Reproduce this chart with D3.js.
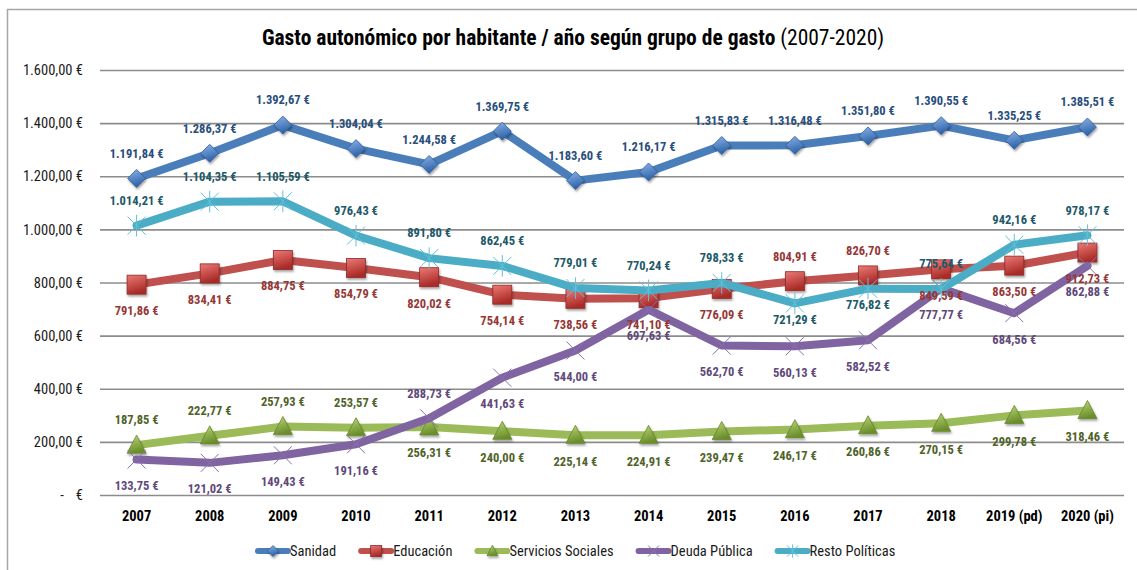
<!DOCTYPE html>
<html>
<head>
<meta charset="utf-8">
<script src="https://cdn.jsdelivr.net/npm/d3@7"></script>
<style>
  html, body { margin: 0; padding: 0; background: #fff; }
  svg { display: block; }
  text { font-family: 'Liberation Sans Narrow', 'Roboto Condensed', 'Open Sans', sans-serif; }
</style>
</head>
<body>
<svg id="chart" width="1137" height="570"></svg>
<script>
// ---------- data ----------
const years = ["2007","2008","2009","2010","2011","2012","2013","2014","2015","2016","2017","2018","2019 (pd)","2020 (pi)"];
const sanidad = [1191.84,1286.37,1392.67,1304.04,1244.58,1369.75,1183.60,1216.17,1315.83,1316.48,1351.80,1390.55,1335.25,1385.51];
const educacion = [791.86,834.41,884.75,854.79,820.02,754.14,738.56,741.10,776.09,804.91,826.70,849.59,863.50,912.73];
const serviciosSociales = [187.85,222.77,257.93,253.57,256.31,240.00,225.14,224.91,239.47,246.17,260.86,270.15,299.78,318.46];
const deudaPublica = [133.75,121.02,149.43,191.16,288.73,441.63,544.00,697.63,562.70,560.13,582.52,777.77,684.56,862.88];
const restoPoliticas = [1014.21,1104.35,1105.59,976.43,891.80,862.45,779.01,770.24,798.33,721.29,776.82,775.64,942.16,978.17];
const seriesNames = ["Sanidad","Educación","Servicios Sociales","Deuda Pública","Resto Políticas"];
const yTicks = [0,200,400,600,800,1000,1200,1400,1600];

// label placement (a = above, b = below)
const labelPlacement = [
  "aaaaaaaaaaaaaa",
  "bbbbbbbbbaabbb",
  "aaaabbbbbbbbbb",
  "bbbbabbbbbbbbb",
  "aaaaaaaaabbaaa"
];

// ---------- styles ----------
const styles = [
  {line:"#4a7ebb", label:"#284e7c", marker:"diamond", g1:"#8cb4ea", g2:"#2e63a8", stroke:"#335f99", below:26},
  {line:"#c0504d", label:"#953735", marker:"square",  g1:"#ec7a76", g2:"#a92a26", stroke:"#8e2a28", below:26},
  {line:"#9bbb59", label:"#4f6228", marker:"triangle",g1:"#bcd97a", g2:"#6b8e2a", stroke:"#67852d", below:26},
  {line:"#8064a2", label:"#5f497a", marker:"x",       g1:"#8064a2", g2:"#8064a2", stroke:"#8a70ad", below:26},
  {line:"#4bacc6", label:"#205867", marker:"star",    g1:"#4bacc6", g2:"#4bacc6", stroke:"#60c0da", below:16}
];
const allSeries = [sanidad, educacion, serviciosSociales, deudaPublica, restoPoliticas];

const svg = d3.select("#chart");
const W = 1137, H = 570;
const plot = {left:100, right:1124, top:70, bottom:495};

// defs: gradients & shadow
const defs = svg.append("defs");
styles.forEach((s,i) => {
  const g = defs.append("linearGradient").attr("id","grad"+i)
    .attr("x1","0").attr("y1","0").attr("x2","0.3").attr("y2","1");
  g.append("stop").attr("offset","0%").attr("stop-color",s.g1);
  g.append("stop").attr("offset","100%").attr("stop-color",s.g2);
});
const f = defs.append("filter").attr("id","shadow").attr("x","-50%").attr("y","-50%").attr("width","200%").attr("height","200%");
f.append("feDropShadow").attr("dx",1).attr("dy",2).attr("stdDeviation",1.2).attr("flood-color","#000").attr("flood-opacity",0.35);

// border
svg.append("rect").attr("x",7.5).attr("y",9.5).attr("width",W+10).attr("height",H+10)
  .attr("fill","#fff").attr("stroke","#a6a6a6").attr("stroke-width",1.5);

// scales
const x = d3.scaleBand().domain(years).range([plot.left, plot.right]).padding(0);
const cx = d => x(d) + x.bandwidth()/2;
const y = d3.scaleLinear().domain([0,1600]).range([plot.bottom, plot.top]);

const loc = d3.formatLocale({decimal:",", thousands:".", grouping:[3], currency:["",""]});
const fmt = loc.format(",.2f");
const euro = v => fmt(v) + " €";

// y axis with gridlines
const yAxis = svg.append("g").attr("transform",`translate(${plot.left},0)`)
  .call(d3.axisLeft(y).tickValues(yTicks).tickSize(-(plot.right-plot.left)).tickPadding(17)
    .tickFormat(v => v === 0 ? "" : euro(v)));
yAxis.select(".domain").remove();
yAxis.selectAll(".tick line").attr("stroke","#8c8c8c").attr("stroke-width",1.6);
yAxis.selectAll(".tick text").attr("font-size",14.5).attr("fill","#1a1a1a");
// zero label in accounting style
const zeroTick = yAxis.selectAll(".tick").filter(d => d === 0);
zeroTick.append("text").attr("x",-38).attr("dy","0.32em").attr("text-anchor","middle")
  .attr("font-size",14.5).attr("fill","#1a1a1a").text("-");
zeroTick.append("text").attr("x",-17).attr("dy","0.32em").attr("text-anchor","end")
  .attr("font-size",14.5).attr("fill","#1a1a1a").text("€");

// x axis
const xAxis = svg.append("g").attr("transform",`translate(0,${plot.bottom})`)
  .call(d3.axisBottom(x).tickSize(0).tickPadding(16));
xAxis.select(".domain").remove();
xAxis.selectAll(".tick text").attr("font-size",14.5).attr("font-weight","bold").attr("fill","#000");

// marker drawing
function drawMarker(g, type, i, size, sw) {
  const s = styles[i];
  const r = size/2;
  if (type === "diamond") {
    g.append("path").attr("d",`M0,${-r}L${r},0L0,${r}L${-r},0Z`)
      .attr("fill",`url(#grad${i})`).attr("stroke",s.stroke).attr("stroke-width",0.8).attr("filter","url(#shadow)");
  } else if (type === "square") {
    g.append("rect").attr("x",-r).attr("y",-r).attr("width",size).attr("height",size)
      .attr("fill",`url(#grad${i})`).attr("stroke",s.stroke).attr("stroke-width",0.8).attr("filter","url(#shadow)");
  } else if (type === "triangle") {
    g.append("path").attr("d",`M0,${-r*1.05}L${r},${r*0.85}L${-r},${r*0.85}Z`)
      .attr("fill",`url(#grad${i})`).attr("stroke",s.stroke).attr("stroke-width",0.8).attr("filter","url(#shadow)");
  } else if (type === "x") {
    g.append("path").attr("d",`M${-r},${-r}L${r},${r}M${-r},${r}L${r},${-r}`)
      .attr("stroke",s.stroke).attr("stroke-width",sw).attr("fill","none");
  } else if (type === "star") {
    g.append("path").attr("d",`M${-r},${-r}L${r},${r}M${-r},${r}L${r},${-r}M0,${-r*1.2}L0,${r*1.2}`)
      .attr("stroke",s.stroke).attr("stroke-width",sw).attr("fill","none");
  }
}

// series
const line = d3.line().x(d => cx(d.year)).y(d => y(d.v));
allSeries.forEach((vals, i) => {
  const s = styles[i];
  const data = vals.map((v,j) => ({year:years[j], v}));
  const g = svg.append("g");
  g.append("path").datum(data).attr("d",line).attr("fill","none")
    .attr("stroke",s.line).attr("stroke-width",8).attr("stroke-linejoin","round").attr("stroke-linecap","round");
  data.forEach(d => {
    const m = g.append("g").attr("transform",`translate(${cx(d.year)},${y(d.v)})`);
    const size = s.marker === "square" ? 19 : (s.marker === "triangle" ? 19 : 18);
    drawMarker(m, s.marker, i, size, 1);
  });
});

// data labels
allSeries.forEach((vals, i) => {
  const s = styles[i];
  svg.append("g").selectAll("text").data(vals).join("text")
    .attr("x",(v,j) => cx(years[j]))
    .attr("y",(v,j) => y(v) + (labelPlacement[i][j] === "a" ? -25 : s.below))
    .attr("dy","0.35em").attr("text-anchor","middle")
    .attr("font-size",12.5).attr("font-weight","bold").attr("fill",s.label)
    .text(v => euro(v));
});

// title
const title = svg.append("text").attr("x",573).attr("y",45).attr("text-anchor","middle")
  .attr("font-size",21.5).attr("fill","#000");
title.append("tspan").attr("font-weight","bold").text("Gasto autonómico por habitante / año según grupo de gasto");
title.append("tspan").text(" (2007-2020)");

// legend
const legend = svg.append("g");
let lx = 256;
const ly = 551;
seriesNames.forEach((name, i) => {
  const s = styles[i];
  const g = legend.append("g").attr("transform",`translate(${lx},${ly})`);
  g.append("line").attr("x1",2).attr("x2",32).attr("y1",0).attr("y2",0)
    .attr("stroke",s.line).attr("stroke-width",6).attr("stroke-linecap","round");
  const m = g.append("g").attr("transform","translate(17,0)");
  drawMarker(m, s.marker, i, 11, 1);
  const t = g.append("text").attr("x",34).attr("dy","0.35em").attr("font-size",14.5).attr("fill","#1a1a1a").text(name);
  lx += 34 + t.node().getComputedTextLength() + 23;
});
</script>
</body>
</html>
